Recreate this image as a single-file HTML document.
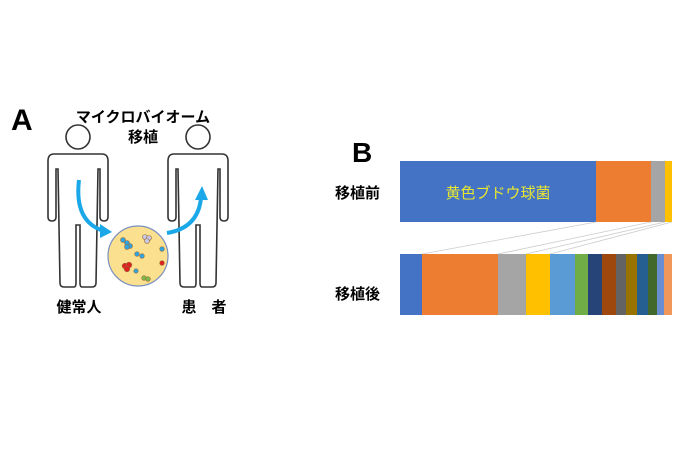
<!DOCTYPE html>
<html><head><meta charset="utf-8"><style>
body{margin:0;width:677px;height:451px;background:#fff;overflow:hidden}
text{font-family:"Liberation Sans","Noto Sans CJK JP",sans-serif}
</style></head><body>
<svg width="677" height="451" viewBox="0 0 677 451">
<defs>
<path id="p" d="M -8,17 L -24,17 Q -30,17 -30,24 L -30,80 Q -30,84 -26,84 Q -22,84 -22,80 L -22,32 L -20,32 L -18,146 Q -18,150 -14,150 L -4,150 Q -2,150 -2,146 L -2,88 L 2,88 L 2,146 Q 2,150 4,150 L 14,150 Q 18,150 18,146 L 20,32 L 22,32 L 22,80 Q 22,84 26,84 Q 30,84 30,80 L 30,24 Q 30,17 24,17 Z" fill="#fff" stroke="#333" stroke-width="1.6"/>
</defs>
<text x="11" y="130" font-size="30" font-weight="bold">A</text>
<text x="143" y="122" font-size="15" text-anchor="middle" font-weight="bold">マイクロバイオーム</text>
<text x="143" y="142" font-size="15" text-anchor="middle" font-weight="bold">移植</text>
<g transform="translate(78,137)"><use href="#p"/><circle cx="0" cy="0" r="12" fill="#fff" stroke="#333" stroke-width="1.6"/></g>
<g transform="translate(198,137)"><use href="#p"/><circle cx="0" cy="0" r="12" fill="#fff" stroke="#333" stroke-width="1.6"/></g>
<path d="M79,180 Q74,222 104,231" fill="none" stroke="#1aa8e8" stroke-width="4"/>
<polygon points="100,224 112,232 100,238" fill="#1aa8e8"/>
<path d="M167,233 Q198,228 201,198" fill="none" stroke="#1aa8e8" stroke-width="4"/>
<polygon points="195,200 202,186 208,200" fill="#1aa8e8"/>
<circle cx="138" cy="256" r="30" fill="#fbe08f" stroke="#7a8fc0" stroke-width="1.2"/>
<g stroke="#9a6a3a" stroke-width="0.6">
<circle cx="123" cy="240" r="2.5" fill="#2ea4e0"/><circle cx="127" cy="243" r="2.5" fill="#2ea4e0"/><circle cx="130" cy="246" r="2.5" fill="#2ea4e0"/><circle cx="127" cy="247" r="2.5" fill="#2ea4e0"/>
<circle cx="145" cy="237" r="2.5" fill="#c8c8e8"/><circle cx="149" cy="238" r="2.5" fill="#c8c8e8"/><circle cx="147" cy="241" r="2.5" fill="#c8c8e8"/>
<circle cx="137" cy="254" r="2.3" fill="#2ea4e0"/><circle cx="142" cy="256" r="2.3" fill="#2ea4e0"/>
<circle cx="162" cy="249" r="2.3" fill="#2ea4e0"/>
<circle cx="125" cy="266" r="2.8" fill="#e02020"/><circle cx="129" cy="265" r="2.8" fill="#e02020"/><circle cx="127" cy="269" r="2.8" fill="#e02020"/>
<circle cx="162" cy="263" r="2.3" fill="#e02020"/>
<circle cx="136" cy="271" r="2.2" fill="#2ea4e0"/>
<circle cx="144" cy="278" r="2.3" fill="#7cba4a"/><circle cx="148" cy="279" r="2.3" fill="#7cba4a"/>
</g>
<text x="79" y="312" font-size="15" text-anchor="middle" font-weight="bold">健常人</text>
<text x="204" y="312" font-size="15" text-anchor="middle" font-weight="bold">患　者</text>

<text x="352" y="162" font-size="28" font-weight="bold">B</text>
<text x="335" y="198" font-size="15" font-weight="bold">移植前</text>
<text x="335" y="299" font-size="15" font-weight="bold">移植後</text>
<rect x="400" y="161" width="196" height="61" fill="#4472c4"/>
<rect x="596" y="161" width="55" height="61" fill="#ed7d31"/>
<rect x="651" y="161" width="14" height="61" fill="#a5a5a5"/>
<rect x="665" y="161" width="7" height="61" fill="#ffc000"/>
<text x="498" y="198" font-size="15" fill="#e8e830" text-anchor="middle">黄色ブドウ球菌</text>
<g stroke="#ccc" stroke-width="0.8">
<line x1="596" y1="222" x2="422" y2="254"/><line x1="651" y1="222" x2="498" y2="254"/>
<line x1="665" y1="222" x2="526" y2="254"/><line x1="672" y1="222" x2="550" y2="254"/>
</g>
<rect x="400" y="254" width="22" height="61" fill="#4472c4"/>
<rect x="422" y="254" width="76" height="61" fill="#ed7d31"/>
<rect x="498" y="254" width="28" height="61" fill="#a5a5a5"/>
<rect x="526" y="254" width="24" height="61" fill="#ffc000"/>
<rect x="550" y="254" width="25" height="61" fill="#5b9bd5"/>
<rect x="575" y="254" width="13" height="61" fill="#70ad47"/>
<rect x="588" y="254" width="14" height="61" fill="#264478"/>
<rect x="602" y="254" width="14" height="61" fill="#9e480e"/>
<rect x="616" y="254" width="10" height="61" fill="#636363"/>
<rect x="626" y="254" width="11" height="61" fill="#997300"/>
<rect x="637" y="254" width="11" height="61" fill="#255e91"/>
<rect x="648" y="254" width="9" height="61" fill="#43682b"/>
<rect x="657" y="254" width="7" height="61" fill="#698ed0"/>
<rect x="664" y="254" width="8" height="61" fill="#f1975a"/>
</svg>
</body></html>
